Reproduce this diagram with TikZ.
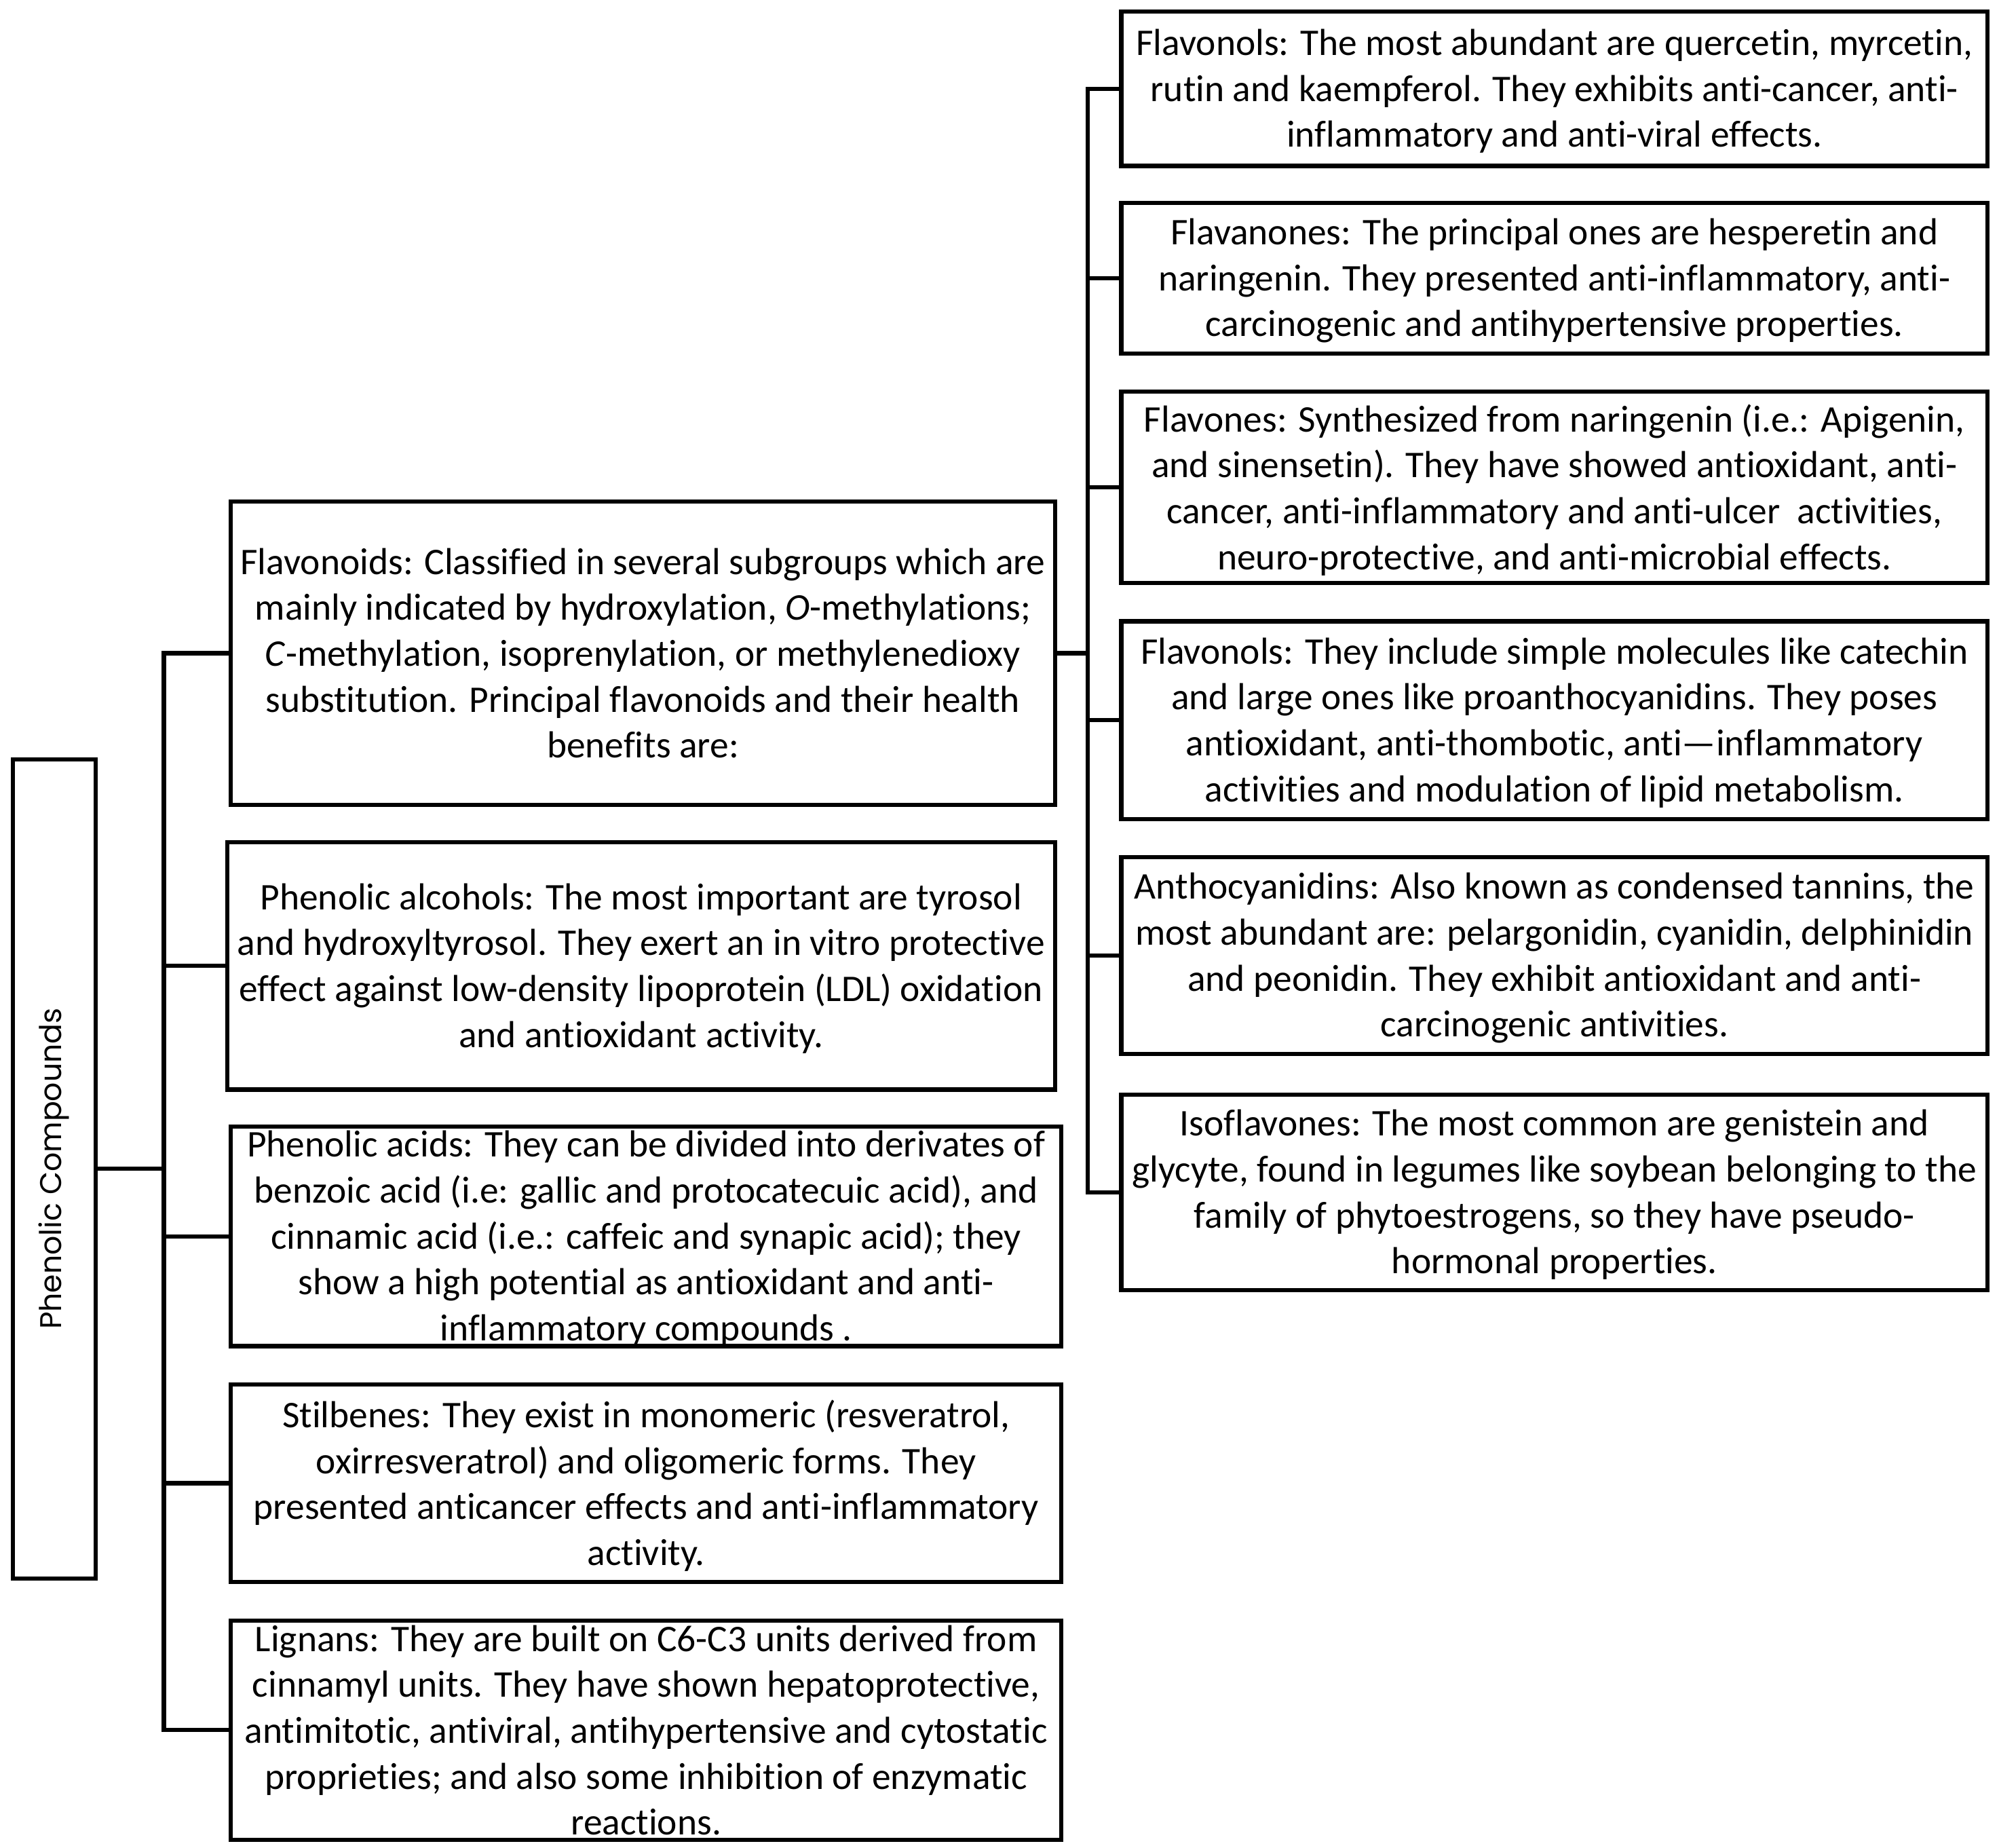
\documentclass[tikz,border=0pt]{standalone}
\usepackage{fontspec}
\setmainfont[Ligatures=NoCommon]{Carlito}
\newfontfamily\pcfont{Poppins}
\begin{document}
\begin{tikzpicture}[x=1pt,y=-1pt,
  box/.style={draw, line width=3.3pt, inner sep=0pt, minimum width=#1},
  txt/.style={align=center, inner sep=0pt, font=\fontsize{29.5}{36}\selectfont},
  conn/.style={line width=3.3pt, line cap=rect}]
\useasboundingbox (0,0) rectangle (1567,1448);
% left column boxes
\node[box=65pt, minimum height=642pt] (pc) at (42.5,916) {};
\node[box=646pt, minimum height=238pt] (fvd) at (504,512) {};
\node[box=649pt, minimum height=194pt] (alc) at (502.5,757) {};
\node[box=651pt, minimum height=172pt] (acd) at (506.5,969) {};
\node[box=651pt, minimum height=155pt] (stl) at (506.5,1162.5) {};
\node[box=651pt, minimum height=172pt] (lig) at (506.5,1356) {};
% right column boxes
\node[box=679pt, minimum height=121pt] (r1) at (1218.5,69.5) {};
\node[box=679pt, minimum height=118pt] (r2) at (1218.5,218) {};
\node[box=679pt, minimum height=150pt] (r3) at (1218.5,382) {};
\node[box=679pt, minimum height=155pt] (r4) at (1218.5,564.5) {};
\node[box=679pt, minimum height=154pt] (r5) at (1218.5,749) {};
\node[box=679pt, minimum height=153pt] (r6) at (1218.5,934.5) {};
% texts
\node[rotate=90, inner sep=0pt, font=\pcfont\fontsize{23.5}{28}\selectfont] (tpc) at (pc.center) {Phenolic Compounds};
\node[txt] (tfvd) at (fvd.center) {Flavonoids: Classified in several subgroups which are\\
mainly indicated by hydroxylation, \textit{O}-methylations;\\
\textit{C}-methylation, isoprenylation, or methylenedioxy\\
substitution. Principal flavonoids and their health\\
benefits are:};
\node[txt] (talc) at ([yshift=-2pt]alc.center) {Phenolic alcohols: The most important are tyrosol\\
and hydroxyltyrosol. They exert an in vitro protective\\
effect against low-density lipoprotein (LDL) oxidation\\
and antioxidant activity.};
\node[txt] (tacd) at ([yshift=-2pt]acd.center) {Phenolic acids: They can be divided into derivates of\\
benzoic acid (i.e: gallic and protocatecuic acid), and\\
cinnamic acid (i.e.: caffeic and synapic acid); they\\
show a high potential as antioxidant and anti-\\
inflammatory compounds .};
\node[txt] (tstl) at ([yshift=-2pt]stl.center) {Stilbenes: They exist in monomeric (resveratrol,\\
oxirresveratrol) and oligomeric forms. They\\
presented anticancer effects and anti-inflammatory\\
activity.};
\node[txt] (tlig) at (lig.center) {Lignans: They are built on C6-C3 units derived from\\
cinnamyl units. They have shown hepatoprotective,\\
antimitotic, antiviral, antihypertensive and cytostatic\\
proprieties; and also some inhibition of enzymatic\\
reactions.};
\node[txt] (tr1) at ([yshift=-2pt]r1.center) {Flavonols: The most abundant are quercetin, myrcetin,\\
rutin and kaempferol. They exhibits anti-cancer, anti-\\
inflammatory and anti-viral effects.};
\node[txt] (tr2) at ([yshift=-2pt]r2.center) {Flavanones: The principal ones are hesperetin and\\
naringenin. They presented anti-inflammatory, anti-\\
carcinogenic and antihypertensive properties.};
\node[txt] (tr3) at ([yshift=-2pt]r3.center) {Flavones: Synthesized from naringenin (i.e.: Apigenin,\\
and sinensetin). They have showed antioxidant, anti-\\
cancer, anti-inflammatory and anti-ulcer\ \ activities,\\
neuro-protective, and anti-microbial effects.};
\node[txt] (tr4) at ([yshift=-2pt]r4.center) {Flavonols: They include simple molecules like catechin\\
and large ones like proanthocyanidins. They poses\\
antioxidant, anti-thombotic, anti—inflammatory\\
activities and modulation of lipid metabolism.};
\node[txt] (tr5) at ([yshift=-2pt]r5.center) {Anthocyanidins: Also known as condensed tannins, the\\
most abundant are: pelargonidin, cyanidin, delphinidin\\
and peonidin. They exhibit antioxidant and anti-\\
carcinogenic antivities.};
\node[txt] (tr6) at ([yshift=-2pt]r6.center) {Isoflavones: The most common are genistein and\\
glycyte, found in legumes like soybean belonging to the\\
family of phytoestrogens, so they have pseudo-\\
hormonal properties.};
% connectors
\coordinate (t1) at (128.5,0);
\coordinate (t2) at (852.5,0);
\draw[conn] (pc.east) -- (pc.east -| t1);
\draw[conn] (fvd.west -| t1) -- (lig.west -| t1);
\foreach \b in {fvd,alc,acd,stl,lig} \draw[conn] (\b.west -| t1) -- (\b.west);
\draw[conn] (fvd.east) -- (fvd.east -| t2);
\draw[conn] (r1.west -| t2) -- (r6.west -| t2);
\foreach \b in {r1,r2,r3,r4,r5,r6} \draw[conn] (\b.west -| t2) -- (\b.west);
\end{tikzpicture}
\end{document}
